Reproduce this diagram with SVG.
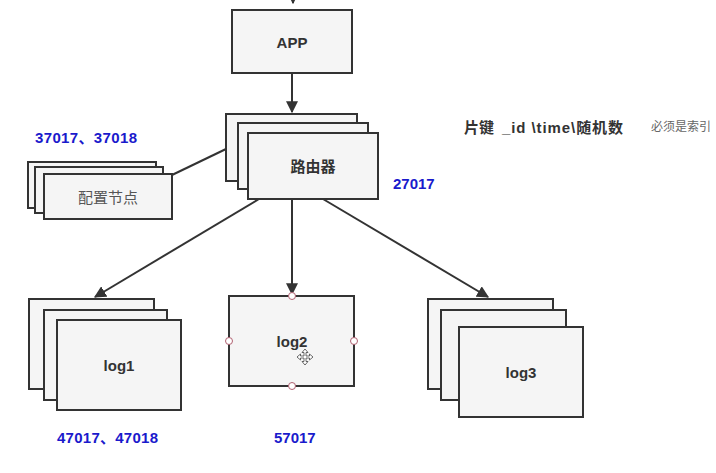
<svg xmlns="http://www.w3.org/2000/svg" width="716" height="473" viewBox="0 0 716 473">
<style>
.box{fill:#f5f5f5;stroke:#333;stroke-width:2}
.t{font-family:"Liberation Sans","Noto Sans CJK SC",sans-serif;font-size:15px;font-weight:bold;fill:#333;text-anchor:middle;dominant-baseline:central}
.g{font-family:"Liberation Sans","Noto Sans CJK SC",sans-serif;font-size:15px;fill:#555;text-anchor:middle;dominant-baseline:central}
.b{font-family:"Liberation Sans","Noto Sans CJK SC",sans-serif;font-size:15px;font-weight:bold;fill:#1a1acc;dominant-baseline:central}
.ln{stroke:#333;stroke-width:2;fill:none}
.h{fill:#fff;stroke:#b06070;stroke-width:1}
</style>
<defs>
<marker id="ar" viewBox="0 0 10 10" refX="9" refY="5" markerWidth="6" markerHeight="6" orient="auto" markerUnits="strokeWidth">
<path d="M0,0 L10,5 L0,10 z" fill="#333"/>
</marker>
</defs>
<rect width="716" height="473" fill="#fff"/>
<g id="connectors">
<path class="ln" d="M293,-10 L293,3" marker-end="url(#ar)"/>
<path class="ln" d="M292,73 L292,112" marker-end="url(#ar)"/>
<path class="ln" d="M172,175 L226,149"/>
<path class="ln" d="M259,199 L95,297" marker-end="url(#ar)"/>
<path class="ln" d="M292,199 L292,294" marker-end="url(#ar)"/>
<path class="ln" d="M323,199 L488,297" marker-end="url(#ar)"/>
</g>
<g id="app">
<rect class="box" x="232" y="10" width="120" height="63"/>
<text class="t" x="292" y="42">APP</text>
</g>
<g id="router">
<rect class="box" x="226" y="114" width="131" height="67"/>
<rect class="box" x="238" y="123" width="130" height="66"/>
<rect class="box" x="248" y="133" width="130" height="66"/>
<text class="t" x="313" y="166">路由器</text>
</g>
<g id="config">
<rect class="box" x="28" y="162" width="128" height="46"/>
<rect class="box" x="35" y="167" width="128" height="46"/>
<rect class="box" x="44" y="174" width="128" height="45"/>
<text class="g" x="108" y="197">配置节点</text>
</g>
<g id="log1">
<rect class="box" x="29" y="299" width="125" height="90"/>
<rect class="box" x="44" y="310" width="123" height="90"/>
<rect class="box" x="57" y="320" width="124" height="90"/>
<text class="t" x="119" y="365">log1</text>
</g>
<g id="log2">
<rect class="box" x="229" y="296" width="125" height="90"/>
<text class="t" x="292" y="341">log2</text>
<circle class="h" cx="292" cy="296" r="3.5"/>
<circle class="h" cx="229" cy="341" r="3.5"/>
<circle class="h" cx="354" cy="341" r="3.5"/>
<circle class="h" cx="292" cy="386" r="3.5"/>
<g fill="#fff" stroke="#444" stroke-width="0.8">
<path d="M305,349 L308,352.5 L306,352.5 L306,356 L309.5,356 L309.5,354 L313,357 L309.5,360 L309.5,358 L306,358 L306,361.5 L308,361.5 L305,365 L302,361.5 L304,361.5 L304,358 L300.5,358 L300.5,360 L297,357 L300.5,354 L300.5,356 L304,356 L304,352.5 L302,352.5 Z"/>
</g>
</g>
<g id="log3">
<rect class="box" x="428" y="299" width="125" height="90"/>
<rect class="box" x="441" y="310" width="125" height="90"/>
<rect class="box" x="459" y="327" width="124" height="90"/>
<text class="t" x="521" y="372">log3</text>
</g>
<g id="labels">
<text class="b" x="35" y="137" textLength="102" lengthAdjust="spacing">37017、37018</text>
<text class="b" x="393" y="183">27017</text>
<text class="b" x="57" y="437" textLength="101" lengthAdjust="spacing">47017、47018</text>
<text class="b" x="274" y="437">57017</text>
<text class="t" x="464" y="127" style="text-anchor:start">片键</text>
<text class="t" x="502" y="127" style="text-anchor:start" textLength="121" lengthAdjust="spacing">_id \time\随机数</text>
<text class="g" x="651" y="127" style="text-anchor:start;font-size:12px;fill:#666">必须是索引</text>
</g>
</svg>
